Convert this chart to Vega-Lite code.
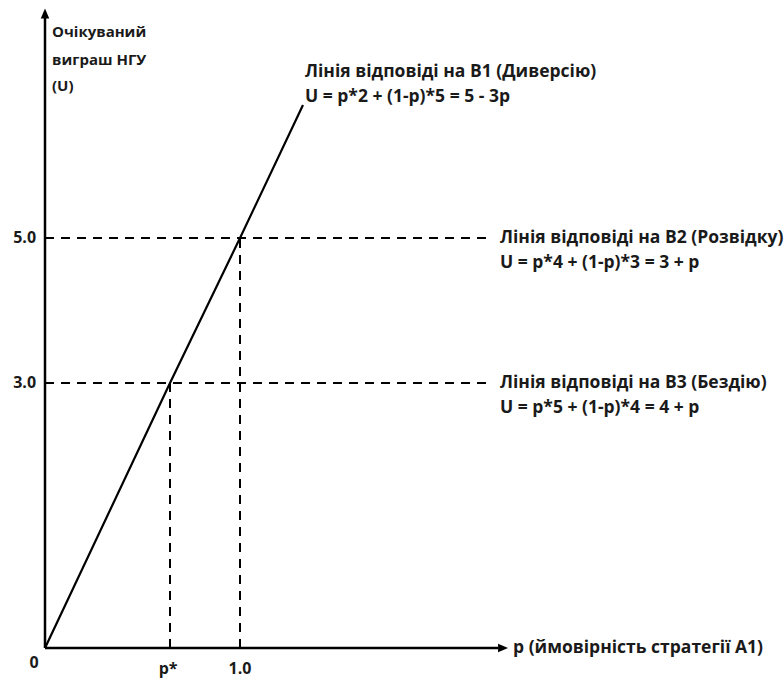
{
  "$schema": "https://vega.github.io/schema/vega-lite/v6.json",
  "width": 784,
  "height": 679,
  "padding": 0,
  "autosize": {"type": "fit", "contains": "padding"},
  "background": "white",
  "config": {"view": {"stroke": null}},
  "datasets": {
    "axes": [
      {"p1": 0, "U1": 0, "p2": 0, "U2": 8.034},
      {"p1": 0, "U1": 0, "p2": 2.323, "U2": 0}
    ],
    "guides": [
      {"p1": 0, "U1": 5, "p2": 2.297, "U2": 5},
      {"p1": 0, "U1": 3, "p2": 2.297, "U2": 3},
      {"p1": 1, "U1": 0, "p2": 1, "U2": 5},
      {"p1": 0.641, "U1": 0, "p2": 0.641, "U2": 3}
    ],
    "response": [
      {"p": 0, "U": 0},
      {"p": 0.641, "U": 3},
      {"p": 1, "U": 5},
      {"p": 1.323, "U": 6.834}
    ],
    "arrows": [
      {"p": 0, "U": 8.097, "dir": "up"},
      {"p": 2.349, "U": 0, "dir": "right"}
    ],
    "labels": [
      {"p": 0.036, "U": 7.841, "text": "Очікуваний", "kind": "title"},
      {"p": 0.036, "U": 7.455, "text": "виграш НГУ", "kind": "title"},
      {"p": 0.036, "U": 7.097, "text": "(U)", "kind": "title"},
      {"p": 1.333, "U": 7.29, "text": "Лінія відповіді на B1 (Диверсію)", "kind": "left"},
      {"p": 1.333, "U": 6.945, "text": "U = p*2 + (1-p)*5 = 5 - 3p", "kind": "left"},
      {"p": 2.333, "U": 5, "text": "Лінія відповіді на B2 (Розвідку)", "kind": "left"},
      {"p": 2.333, "U": 4.655, "text": "U = p*4 + (1-p)*3 = 3 + p", "kind": "left"},
      {"p": 2.333, "U": 3, "text": "Лінія відповіді на B3 (Бездію)", "kind": "left"},
      {"p": 2.333, "U": 2.717, "text": "U = p*5 + (1-p)*4 = 4 + p", "kind": "left"},
      {"p": 2.4, "U": 0, "text": "p (ймовірність стратегії A1)", "kind": "left"},
      {"p": -0.046, "U": 5, "text": "5.0", "kind": "right"},
      {"p": -0.046, "U": 3, "text": "3.0", "kind": "right"},
      {"p": -0.056, "U": -0.17, "text": "0", "kind": "center"},
      {"p": 0.631, "U": -0.24, "text": "p*", "kind": "center"},
      {"p": 1, "U": -0.24, "text": "1.0", "kind": "center"}
    ]
  },
  "layer": [
    {
      "data": {"name": "guides"},
      "mark": {"type": "rule", "strokeDash": [9, 7], "strokeWidth": 2, "color": "#000"},
      "encoding": {
        "x": {"field": "p1", "type": "quantitative", "axis": null, "scale": {"domain": [-0.2308, 3.7897], "nice": false, "zero": false}},
        "y": {"field": "U1", "type": "quantitative", "axis": null, "scale": {"domain": [-0.351, 0, 3, 5, 8.283], "range": [679, 648, 383, 238, 0], "nice": false, "zero": false}},
        "x2": {"field": "p2"},
        "y2": {"field": "U2"}
      }
    },
    {
      "data": {"name": "axes"},
      "mark": {"type": "rule", "strokeWidth": 2.5, "color": "#000"},
      "encoding": {
        "x": {"field": "p1", "type": "quantitative"},
        "y": {"field": "U1", "type": "quantitative"},
        "x2": {"field": "p2"},
        "y2": {"field": "U2"}
      }
    },
    {
      "data": {"name": "response"},
      "mark": {"type": "line", "strokeWidth": 2.2, "color": "#000"},
      "encoding": {
        "x": {"field": "p", "type": "quantitative"},
        "y": {"field": "U", "type": "quantitative"}
      }
    },
    {
      "data": {"name": "arrows"},
      "mark": {"type": "point", "filled": true, "opacity": 1, "size": 100, "color": "#000"},
      "encoding": {
        "x": {"field": "p", "type": "quantitative"},
        "y": {"field": "U", "type": "quantitative"},
        "shape": {"field": "dir", "type": "nominal", "legend": null, "scale": {"domain": ["up", "right"], "range": ["M0,-1L-0.85,1L0.85,1Z", "M1,0L-1,-0.85L-1,0.85Z"]}}
      }
    },
    {
      "data": {"name": "labels"},
      "transform": [{"filter": "datum.kind === 'title'"}],
      "mark": {"type": "text", "align": "left", "baseline": "middle", "font": "Open Sans", "fontWeight": "bold", "fontSize": 15, "color": "#1a1a1a"},
      "encoding": {
        "x": {"field": "p", "type": "quantitative"},
        "y": {"field": "U", "type": "quantitative"},
        "text": {"field": "text"}
      }
    },
    {
      "data": {"name": "labels"},
      "transform": [{"filter": "datum.kind === 'left'"}],
      "mark": {"type": "text", "align": "left", "baseline": "middle", "font": "Open Sans", "fontWeight": "bold", "fontSize": 17.5, "color": "#1a1a1a"},
      "encoding": {
        "x": {"field": "p", "type": "quantitative"},
        "y": {"field": "U", "type": "quantitative"},
        "text": {"field": "text"}
      }
    },
    {
      "data": {"name": "labels"},
      "transform": [{"filter": "datum.kind === 'right'"}],
      "mark": {"type": "text", "align": "right", "baseline": "middle", "font": "Open Sans", "fontWeight": "bold", "fontSize": 16, "color": "#1a1a1a"},
      "encoding": {
        "x": {"field": "p", "type": "quantitative"},
        "y": {"field": "U", "type": "quantitative"},
        "text": {"field": "text"}
      }
    },
    {
      "data": {"name": "labels"},
      "transform": [{"filter": "datum.kind === 'center'"}],
      "mark": {"type": "text", "align": "center", "baseline": "middle", "font": "Open Sans", "fontWeight": "bold", "fontSize": 16, "color": "#1a1a1a"},
      "encoding": {
        "x": {"field": "p", "type": "quantitative"},
        "y": {"field": "U", "type": "quantitative"},
        "text": {"field": "text"}
      }
    }
  ]
}
